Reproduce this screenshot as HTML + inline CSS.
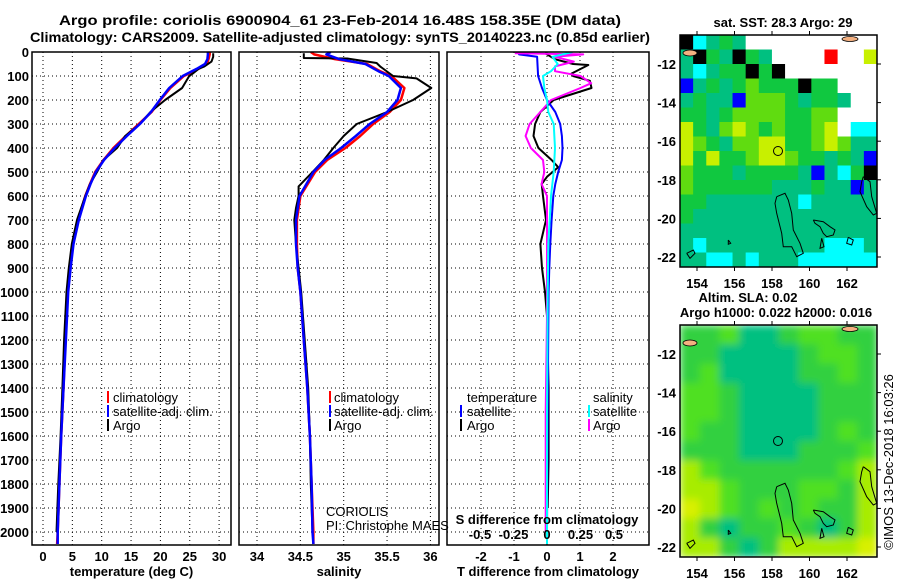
<!DOCTYPE html>
<html><head><meta charset="utf-8">
<style>
html,body{margin:0;padding:0;background:#fff;}
svg{display:block;font-family:"Liberation Sans",Arial,sans-serif;}
.tk{font-size:13px;font-weight:bold;}
.lg{font-size:13px;}
</style></head>
<body>
<svg id="fig" width="900" height="580" viewBox="0 0 900 580" xmlns="http://www.w3.org/2000/svg">
<defs>
<clipPath id="c1"><rect x="32" y="52" width="199" height="493"/></clipPath>
<clipPath id="c2"><rect x="239" y="52" width="200" height="493"/></clipPath>
<clipPath id="c3"><rect x="447" y="52" width="202" height="493"/></clipPath>
<clipPath id="cm1"><rect x="680" y="35" width="197" height="232"/></clipPath>
<clipPath id="cm2"><rect x="680" y="325" width="197" height="232"/></clipPath>
<filter id="blur" x="-10%" y="-10%" width="120%" height="120%"><feGaussianBlur stdDeviation="4" edgeMode="duplicate"/></filter>
</defs>
<text x="340" y="25" text-anchor="middle" font-size="14" font-weight="bold" textLength="562" lengthAdjust="spacingAndGlyphs">Argo profile: coriolis 6900904_61 23-Feb-2014 16.48S 158.35E (DM data)</text>
<text x="340" y="42" text-anchor="middle" font-size="14" font-weight="bold" textLength="620" lengthAdjust="spacingAndGlyphs">Climatology: CARS2009. Satellite-adjusted climatology: synTS_20140223.nc (0.85d earlier)</text>
<g id="plots"></g>
<g id="maps"></g>
<text transform="translate(893,462) rotate(-90)" text-anchor="middle" font-size="13">©IMOS 13-Dec-2018 16:03:26</text>
</svg>
<script>
// ---------- data ----------
const depthTicks = [0,100,200,300,400,500,600,700,800,900,1000,1100,1200,1300,1400,1500,1600,1700,1800,1900,2000];
const tempTicks = [0,5,10,15,20,25,30];
const salTicks = [34,34.5,35,35.5,36];
const tdiffTicks = [-2,-1,0,1,2];
const sdiffTicks = [-0.5,-0.25,0,0.25,0.5];
const sdiffLabels = ["-0.5","-0.25","0","0.25","0.5"];

const climTDepth = [0,10,30,50,70,100,150,200,250,300,350,400,450,500,550,600,700,800,900,1000,1200,1400,1600,1800,2000,2050];
const climT = [28.4,28.4,28.2,27.9,26.5,24.0,21.7,20.0,18.5,16.3,14.1,12.0,10.3,8.9,8.0,7.2,6.0,5.1,4.6,4.2,3.8,3.5,3.1,2.8,2.5,2.4];
const satT = [28.1,28.1,28.0,27.6,26.2,23.8,21.5,19.9,18.4,16.5,14.3,12.2,10.4,9.0,8.1,7.3,6.1,5.2,4.7,4.3,3.9,3.5,3.1,2.8,2.5,2.5];
const argoTDepth = [5,20,40,60,70,90,100,150,200,250,300,350,400,450,500,550,600,700,800,900,1000,1200,1400,1600,1800,2000];
const argoT = [29.0,29.0,28.7,27.5,26.5,25.5,24.9,23.7,20.8,18.3,16.5,14.0,12.6,10.3,9.2,8.0,7.2,5.8,4.9,4.4,4.0,3.6,3.3,3.0,2.6,2.3];

const climSDepth = [0,10,30,50,80,100,150,200,250,300,350,400,450,500,600,700,800,900,1000,1200,1400,1600,1800,2000,2050];
const climS = [34.62,34.66,34.9,35.27,35.42,35.55,35.70,35.66,35.53,35.34,35.19,35.02,34.81,34.67,34.50,34.46,34.46,34.47,34.50,34.54,34.58,34.61,34.63,34.65,34.65];
const satS = [34.85,34.80,34.95,35.25,35.40,35.52,35.66,35.62,35.50,35.30,35.14,34.97,34.78,34.65,34.49,34.45,34.45,34.47,34.50,34.54,34.58,34.61,34.63,34.64,34.65];
const argoSDepth = [5,25,27,46,60,100,110,150,200,250,300,350,400,450,500,560,600,650,700,800,900,1000,1200,1400,1600,1800,2000];
const argoS = [34.54,34.54,35.04,35.38,35.42,35.57,35.84,36.01,35.8,35.5,35.15,35.0,34.88,34.77,34.64,34.48,34.48,34.45,34.43,34.45,34.48,34.51,34.55,34.59,34.61,34.62,34.64];

const satDTDepth = [0,10,20,100,150,200,250,300,350,400,450,500,550,600,700,800,900,1000,1500,2000,2050];
const satDT = [-0.85,-0.85,-0.3,-0.27,-0.15,0,0.25,0.4,0.45,0.47,0.45,0.34,0.25,0.19,0.14,0.1,0.07,0.05,0.02,0.0,0.0];
const argoDTDepth = [5,30,50,54,90,100,120,150,200,250,300,350,400,450,480,520,550,600,700,800,900,1000,1100,1400,1700,1900];
const argoDT = [-0.06,0.24,0.79,1.25,0.74,0.79,1.3,1.35,0.2,-0.2,-0.36,-0.41,-0.26,0.14,0.34,0,-0.16,-0.12,-0.03,-0.2,-0.15,-0.06,0,0.05,0.05,0.02];
const satDSDepth = [0,20,50,80,100,150,200,250,300,400,500,600,700,800,1000,1500,2050];
const satDS = [0.19,0.04,0.08,0.03,-0.03,-0.02,0,0.01,0.05,0.06,0.05,0.03,0.02,0.01,0.005,0,0];
const argoDSDepth = [5,10,20,40,60,80,100,130,150,200,250,300,350,400,450,500,550,600,700,1100,1500,2000];
const argoDS = [-0.24,0.27,0.06,0.2,0.06,0.06,0.25,0.33,0.25,0.03,-0.05,-0.13,-0.16,-0.12,-0.03,-0.02,-0.04,0,0,0,-0.01,-0.01];

const lonTicks = [154,156,158,160,162];
const latTicks = [-12,-14,-16,-18,-20,-22];
const sstGrid = [
"KCTGTWWWWWWWWWW","TKGTKGTWWWWRWWY","TCTGGKGKWWWWWWW","BTGTGLGGGKGGWWW",
"TGTTBLLLGTGGTWW","GGTGLLLLGGLLWWW","YGTLYLGLGGLYWCC","YLGTLLYYGGLYLTT",
"YGYGGLYYLGGTGTB","LGGGTGGGGTBTCGK","LGGGGGGTTTGTTBT","GGTTTTTTTCTTTTT",
"GTTTTTTTTTTTTTT","TTTTTTTTTTTTTTT","TCTTTTTTTTTCCCT","TTCCTCTTTCCCCCC"];
const slaGrid = [
"MMGTTMGGMM","MMTTTTMGGM","MGTTTTMMGM","GGMTTTTMMM","GGMTTTTMMM","GMMTTTTMGM",
"MMMTTTMMMG","YGMMMMMMGY","YYGMMMGGMY","ZYGMGMGMMY","YMTMMGMTMY","YYMTMYYYYZ"];

// ---------- helpers ----------
const NS="http://www.w3.org/2000/svg";
const plots=document.getElementById('plots');
const maps=document.getElementById('maps');
function mk(tag,attrs,parent){const e=document.createElementNS(NS,tag);for(const k in attrs)e.setAttribute(k,attrs[k]);parent.appendChild(e);return e;}
const yD = d => 52 + d*0.24;
const xT = t => 43 + t*5.87;
const xS = s => 257 + (s-34)*86.7;
const xDT = v => 547 + v*33;
const xDS = v => 547 + v*134;

function panel(x0,w,name,xticks,xf,xlabels,xtitle,clip,gridTicks){
  const g=mk('g',{},plots);
  
  
  const gl=mk('g',{stroke:'#000','stroke-width':1,'stroke-dasharray':'1,3'},g);
  depthTicks.forEach(d=>{const l=mk('line',{x1:x0,x2:x0+w,y1:yD(d),y2:yD(d)},gl);
    
    });
  (gridTicks||xticks).forEach(t=>{const l=mk('line',{x1:xf(t),x2:xf(t),y1:52,y2:545},gl);
    
    });
  xticks.forEach((t,i)=>{const tx=mk('text',{x:xf(t),y:561,'text-anchor':'middle','class':'tk'},g);tx.textContent=xlabels[i];
    
    });
  const tt=mk('text',{x:x0+w/2,y:576,'text-anchor':'middle','class':'tk'},g);tt.textContent=xtitle;
  
  
  const series=mk('g',{'clip-path':'url(#'+clip+')'},g);
  mk('rect',{x:x0,y:52,width:w,height:493,fill:'none',stroke:'#000','stroke-width':1.5},g);
  return series;
}
function line(parent,depths,vals,xf,color,name,sw){
  const p=depths.map((d,i)=>xf(vals[i]).toFixed(1)+','+yD(d).toFixed(1)).join(' ');
  const e=mk('polyline',{points:p,fill:'none',stroke:color,'stroke-width':sw||2,'stroke-linejoin':'round'},parent);
  
  
}
depthTicks.forEach(d=>{const t=mk('text',{x:29,y:yD(d)+5,'text-anchor':'end','class':'tk'},plots);t.textContent=d;
  
  });

const s1=panel(32,199,'temperature-panel',tempTicks,xT,tempTicks.map(String),'temperature (deg C)','c1');
line(s1,climTDepth,climT,xT,'#f00','climatology-temperature-line',2.5);
line(s1,argoTDepth,argoT,xT,'#000','argo-temperature-line',2);
line(s1,climTDepth,satT,xT,'#00f','satellite-temperature-line',2.5);

const s2=panel(239,200,'salinity-panel',salTicks,xS,salTicks.map(String),'salinity','c2');
line(s2,climSDepth,climS,xS,'#f00','climatology-salinity-line',2.5);
line(s2,argoSDepth,argoS,xS,'#000','argo-salinity-line',2);
line(s2,climSDepth,satS,xS,'#00f','satellite-salinity-line',2.5);

const s3=panel(447,202,'difference-panel',tdiffTicks,xDT,tdiffTicks.map(String),'T difference from climatology','c3');
line(s3,argoDTDepth,argoDT,xDT,'#000','argo-temperature-difference-line',2);
line(s3,satDTDepth,satDT,xDT,'#00f','satellite-temperature-difference-line',2);
line(s3,argoDSDepth,argoDS,xDS,'#f0f','argo-salinity-difference-line',2);
line(s3,satDSDepth,satDS,xDS,'#0ff','satellite-salinity-difference-line',2);
sdiffTicks.forEach((t,i)=>{const tx=mk('text',{x:xDS(t),y:539,'text-anchor':'middle','class':'tk'},plots);tx.textContent=sdiffLabels[i];
  
  });
{const t=mk('text',{x:547,y:524,'text-anchor':'middle','class':'tk'},plots);t.textContent='S difference from climatology';
 
 }

function legend(mx,tx,y,color,label,name){
  const g=mk('g',{},plots);
  
  
  if(color) mk('line',{x1:mx,x2:mx,y1:y-11,y2:y+1,stroke:color,'stroke-width':2},g);
  const t=mk('text',{x:tx,y:y,'class':'lg'},g);t.textContent=label;
}
legend(108,113,402,'#f00','climatology','legend-climatology');
legend(108,113,416,'#00f','satellite-adj. clim.','legend-satellite');
legend(108,113,430,'#000','Argo','legend-argo');
legend(330,334,402,'#f00','climatology','legend-climatology-s');
legend(330,334,416,'#00f','satellite-adj. clim.','legend-satellite-s');
legend(330,334,430,'#000','Argo','legend-argo-s');
legend(0,467,402,null,'temperature','legend-temperature-header');
legend(461,467,416,'#00f','satellite','legend-temperature-satellite');
legend(461,467,430,'#000','Argo','legend-temperature-argo');
legend(0,593,402,null,'salinity','legend-salinity-header');
legend(589,593,416,'#0ff','satellite','legend-salinity-satellite');
legend(589,593,430,'#f0f','Argo','legend-salinity-argo');
legend(0,326,516,null,'CORIOLIS','coriolis-label');
legend(0,326,530,null,'PI: Christophe MAES','pi-label');

// ---------- maps ----------
const sstColors={W:'#fff',T:'#00c080',G:'#10c840',L:'#60dc10',Y:'#c8f000',C:'#00ffff',B:'#0000ff',K:'#000',R:'#ff0000'};
const slaColors={T:'#00c080',M:'#30d040',G:'#50e020',Y:'#a8ec00',Z:'#d8f000'};
const coast=[
 [[350,590],[375,580],[385,600],[395,640],[400,690],[420,730],[430,760],[410,770],[395,740],[370,740],[365,700],[350,640],[345,610],[350,590]],
 [[610,530],[630,545],[635,590],[650,640],[640,645],[620,620],[600,575],[605,545],[610,530]],
 [[460,660],[490,665],[510,680],[525,690],[520,705],[500,710],[490,700],[480,680],[465,670],[460,660]],
 [[485,715],[492,740],[480,745],[485,715]],
 [[565,712],[580,720],[575,735],[560,730],[565,712]],
 [[80,760],[100,750],[105,760],[90,775],[80,760]],
 [[205,720],[212,730],[205,733],[205,720]]
];
function drawMap(top,grid,colors,clip,name,title1,title2,blur){
  const g=mk('g',{},maps);
  
  
  const cg=mk('g',{'clip-path':'url(#'+clip+')'},g);
  const inner=mk('g',blur?{filter:'url(#blur)'}:{},cg);
  const rows=grid.length, cols=grid[0].length, cw=197/cols, ch=232/rows;
  grid.forEach((r,i)=>{for(let j=0;j<cols;j++){
    const c=mk('rect',{x:680+j*cw,y:top+i*ch,width:cw+0.6,height:ch+0.6,fill:colors[r[j]]},inner);
    
    
  }});
  mk('ellipse',{cx:690,cy:top+18,rx:7,ry:3,fill:'#f4b080',stroke:'#000','stroke-width':0.8},cg);
  mk('ellipse',{cx:850,cy:top+4,rx:8,ry:2.5,fill:'#f4b080',stroke:'#000','stroke-width':0.8},cg);
  coast.forEach(c=>{const p=c.map(q=>(660+q[0]/3).toFixed(1)+','+(top-35+q[1]/3).toFixed(1)).join(' ');
    const e=mk('polyline',{points:p,fill:'none',stroke:'#000','stroke-width':1},cg);
    
    });
  const ci=mk('circle',{cx:778,cy:top+116,r:4.5,fill:'none',stroke:'#000','stroke-width':1},g);
  
  
  mk('rect',{x:680,y:top,width:197,height:232,fill:'none',stroke:'#000','stroke-width':1.5},g);
  lonTicks.forEach(l=>{const x=697+(l-154)*18.75;
    mk('line',{x1:x,x2:x,y1:top,y2:top-4,stroke:'#000'},g);
    mk('line',{x1:x,x2:x,y1:top+232,y2:top+236,stroke:'#000'},g);
    const t=mk('text',{x:x,y:top+253,'text-anchor':'middle','class':'tk'},g);t.textContent=l;
    
    });
  latTicks.forEach(l=>{const y=top+29+(-12-l)*19.3;
    mk('line',{x1:877,x2:881,y1:y,y2:y,stroke:'#000'},g);
    const t=mk('text',{x:676,y:y+5,'text-anchor':'end','class':'tk'},g);t.textContent=l;
    
    });
  if(title1){const t=mk('text',{x:title1[1],y:title1[2],'text-anchor':'middle','class':'tk'},g);t.textContent=title1[0];
    
    }
  if(title2){const t=mk('text',{x:title2[1],y:title2[2],'text-anchor':'middle','class':'tk'},g);t.textContent=title2[0];
    
    }
}
drawMap(35,sstGrid,sstColors,'cm1','sst-map',['sat. SST: 28.3 Argo: 29',783,27],null,false);
drawMap(325,slaGrid,slaColors,'cm2','sla-map',['Altim. SLA: 0.02',748,302],['Argo h1000: 0.022 h2000: 0.016',776,317],true);
</script>
</body></html>
